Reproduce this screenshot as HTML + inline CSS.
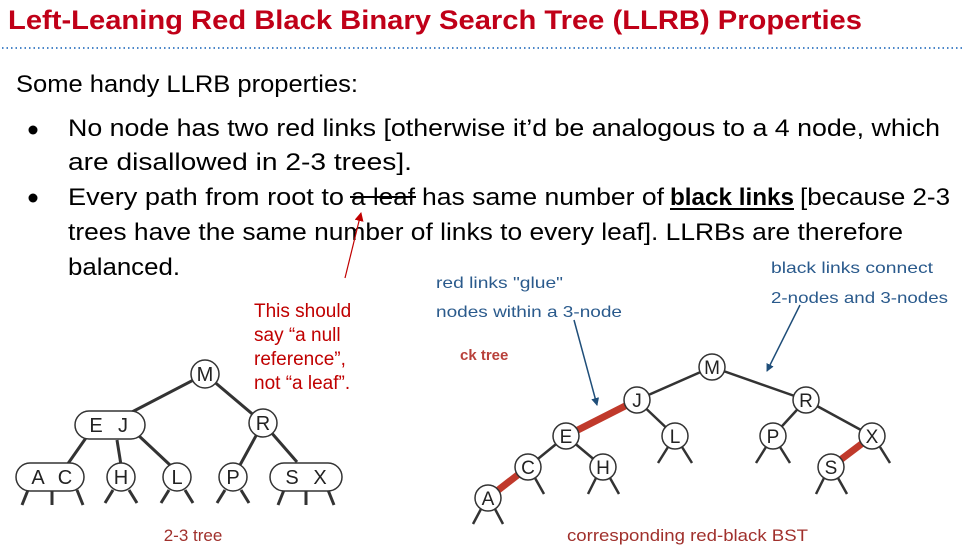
<!DOCTYPE html>
<html><head><meta charset="utf-8"><style>
html,body{margin:0;padding:0;background:#fff;}
svg{display:block;}
text{font-family:"Liberation Sans",sans-serif;}
</style></head><body>
<svg width="965" height="554" viewBox="0 0 965 554" xmlns="http://www.w3.org/2000/svg">
<defs>
<marker id="ab" markerWidth="8" markerHeight="8" refX="7" refY="4" orient="auto" markerUnits="userSpaceOnUse" viewBox="0 0 8 8"><path d="M0,0 L8,4 L0,8 z" fill="#1f4e79"/></marker>
<marker id="ar" markerWidth="9" markerHeight="9" refX="8" refY="4.5" orient="auto" markerUnits="userSpaceOnUse" viewBox="0 0 9 9"><path d="M0,0 L9,4.5 L0,9 z" fill="#c00000"/></marker>
</defs>
<text x="8" y="29" font-size="27" font-weight="bold" fill="#c00018" textLength="854" lengthAdjust="spacingAndGlyphs">Left-Leaning Red Black Binary Search Tree (LLRB) Properties</text>
<line x1="2" y1="48" x2="965" y2="48" stroke="#4a86c8" stroke-width="2" stroke-dasharray="1.5,3"/>
<g font-size="24" fill="#000">
<text x="16" y="92" textLength="342" lengthAdjust="spacingAndGlyphs">Some handy LLRB properties:</text>
<circle cx="33" cy="130" r="4.5"/>
<circle cx="33" cy="198" r="4.5"/>
<text x="68" y="136" textLength="872" lengthAdjust="spacingAndGlyphs">No node has two red links [otherwise it’d be analogous to a 4 node, which</text>
<text x="68" y="170" textLength="344" lengthAdjust="spacingAndGlyphs">are disallowed in 2-3 trees].</text>
<text x="68" y="205" textLength="276" lengthAdjust="spacingAndGlyphs">Every path from root to</text>
<text x="351" y="205" textLength="64" lengthAdjust="spacingAndGlyphs">a leaf</text>
<line x1="350" y1="197" x2="416" y2="197" stroke="#000" stroke-width="2"/>
<text x="422" y="205" textLength="242" lengthAdjust="spacingAndGlyphs">has same number of</text>
<text x="670" y="205" font-weight="bold" textLength="124" lengthAdjust="spacingAndGlyphs">black links</text>
<line x1="670" y1="209" x2="794" y2="209" stroke="#000" stroke-width="2"/>
<text x="800" y="205" textLength="150" lengthAdjust="spacingAndGlyphs">[because 2-3</text>
<text x="68" y="240" textLength="835" lengthAdjust="spacingAndGlyphs">trees have the same number of links to every leaf]. LLRBs are therefore</text>
<text x="68" y="275" textLength="112" lengthAdjust="spacingAndGlyphs">balanced.</text>
</g>
<line x1="345" y1="278" x2="361" y2="213" stroke="#c00000" stroke-width="1.2" marker-end="url(#ar)"/>
<g font-size="19" fill="#c00000">
<text x="254" y="317">This should</text>
<text x="254" y="341">say “a null</text>
<text x="254" y="365">reference”,</text>
<text x="254" y="389">not “a leaf”.</text>
</g>
<g font-size="16" fill="#2a5a8c">
<text x="436" y="288" textLength="127" lengthAdjust="spacingAndGlyphs">red links "glue"</text>
<text x="436" y="317" textLength="186" lengthAdjust="spacingAndGlyphs">nodes within a 3-node</text>
<text x="771" y="273" textLength="162" lengthAdjust="spacingAndGlyphs">black links connect</text>
<text x="771" y="303" textLength="177" lengthAdjust="spacingAndGlyphs">2-nodes and 3-nodes</text>
</g>
<text x="460" y="360" font-size="15" font-weight="bold" fill="#b8403a">ck tree</text>
<line x1="574" y1="320" x2="597" y2="405" stroke="#1f4e79" stroke-width="1.5" marker-end="url(#ab)"/>
<line x1="800" y1="305" x2="767" y2="371" stroke="#1f4e79" stroke-width="1.5" marker-end="url(#ab)"/>

<!-- 2-3 tree -->
<g stroke="#333" stroke-width="3" fill="none">
<line x1="205" y1="374" x2="130" y2="413"/>
<line x1="205" y1="374" x2="263" y2="423"/>
<line x1="88" y1="435" x2="67" y2="465"/>
<line x1="117" y1="440" x2="121" y2="465"/>
<line x1="138" y1="435" x2="170" y2="465"/>
<line x1="263" y1="423" x2="240" y2="465"/>
<line x1="263" y1="423" x2="297" y2="462"/>
<path d="M28,490 L22,505 M52,490 L52,505 M77,490 L83,505"/>
<path d="M113,490 L105,503 M129,490 L137,503"/>
<path d="M169,490 L161,503 M185,490 L193,503"/>
<path d="M225,490 L217,503 M241,490 L249,503"/>
<path d="M284,490 L278,505 M306,490 L306,505 M328,490 L334,505"/>
</g>
<g stroke="#333" stroke-width="1.5" fill="#fff">
<circle cx="205" cy="374" r="14"/>
<rect x="75" y="411" width="70" height="28" rx="14"/>
<circle cx="263" cy="423" r="14"/>
<rect x="16" y="463" width="68" height="28" rx="14"/>
<circle cx="121" cy="477" r="14"/>
<circle cx="177" cy="477" r="14"/>
<circle cx="233" cy="477" r="14"/>
<rect x="270" y="463" width="72" height="28" rx="14"/>
</g>
<g font-size="20" fill="#222" text-anchor="middle">
<text x="205" y="381">M</text>
<text x="96" y="432">E</text><text x="123" y="432">J</text>
<text x="263" y="430">R</text>
<text x="38" y="484">A</text><text x="65" y="484">C</text>
<text x="121" y="484">H</text>
<text x="177" y="484">L</text>
<text x="233" y="484">P</text>
<text x="292" y="484">S</text><text x="320" y="484">X</text>
</g>
<text x="193" y="541" font-size="17" fill="#a0302c" text-anchor="middle">2-3 tree</text>

<!-- red-black BST -->
<g stroke="#333" stroke-width="2.5" fill="none">
<line x1="712" y1="367" x2="637" y2="400"/>
<line x1="712" y1="367" x2="806" y2="400"/>
<line x1="637" y1="400" x2="675" y2="436"/>
<line x1="806" y1="400" x2="773" y2="436"/>
<line x1="806" y1="400" x2="872" y2="436"/>
<line x1="566" y1="436" x2="528" y2="467"/>
<line x1="566" y1="436" x2="603" y2="467"/>
<path d="M668,447 L658,463 M682,447 L692,463"/>
<path d="M766,447 L756,463 M780,447 L790,463"/>
<path d="M880,447 L890,463"/>
<path d="M535,478 L544,494"/>
<path d="M596,478 L588,494 M610,478 L619,494"/>
<path d="M824,478 L816,494 M838,478 L847,494"/>
<path d="M481,509 L473,524 M495,509 L503,524"/>
</g>
<g stroke="#c0392b" stroke-width="7">
<line x1="637" y1="400" x2="566" y2="436"/>
<line x1="528" y1="467" x2="488" y2="498"/>
<line x1="872" y1="436" x2="831" y2="467"/>
</g>
<g stroke="#333" stroke-width="1.5" fill="#fff">
<circle cx="712" cy="367" r="13"/>
<circle cx="637" cy="400" r="13"/>
<circle cx="806" cy="400" r="13"/>
<circle cx="566" cy="436" r="13"/>
<circle cx="675" cy="436" r="13"/>
<circle cx="773" cy="436" r="13"/>
<circle cx="872" cy="436" r="13"/>
<circle cx="528" cy="467" r="13"/>
<circle cx="603" cy="467" r="13"/>
<circle cx="831" cy="467" r="13"/>
<circle cx="488" cy="498" r="13"/>
</g>
<g font-size="19" fill="#222" text-anchor="middle">
<text x="712" y="374">M</text>
<text x="637" y="407">J</text>
<text x="806" y="407">R</text>
<text x="566" y="443">E</text>
<text x="675" y="443">L</text>
<text x="773" y="443">P</text>
<text x="872" y="443">X</text>
<text x="528" y="474">C</text>
<text x="603" y="474">H</text>
<text x="831" y="474">S</text>
<text x="488" y="505">A</text>
</g>
<text x="567" y="541" font-size="17" fill="#a0302c" textLength="241" lengthAdjust="spacingAndGlyphs">corresponding red-black BST</text>
</svg>
</body></html>
